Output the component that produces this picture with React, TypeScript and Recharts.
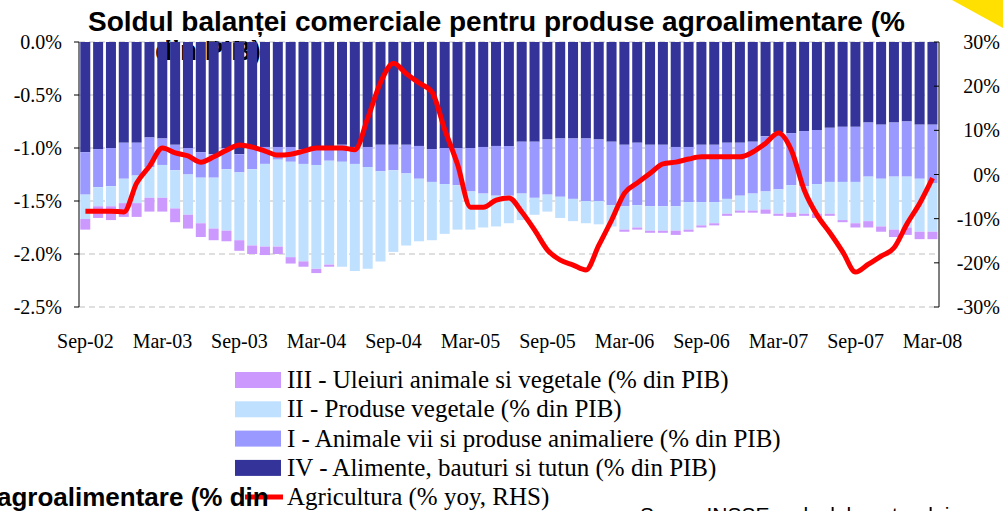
import React from 'react';
import { ComposedChart, Bar, Line, XAxis, YAxis, CartesianGrid } from 'recharts';

// monthly observations, Sep-02 .. Mar-08
const months = [
  'Sep-02', 'Oct-02', 'Nov-02', 'Dec-02', 'Jan-03', 'Feb-03', 'Mar-03', 'Apr-03', 'May-03', 'Jun-03', 'Jul-03', 'Aug-03',
  'Sep-03', 'Oct-03', 'Nov-03', 'Dec-03', 'Jan-04', 'Feb-04', 'Mar-04', 'Apr-04', 'May-04', 'Jun-04', 'Jul-04', 'Aug-04',
  'Sep-04', 'Oct-04', 'Nov-04', 'Dec-04', 'Jan-05', 'Feb-05', 'Mar-05', 'Apr-05', 'May-05', 'Jun-05', 'Jul-05', 'Aug-05',
  'Sep-05', 'Oct-05', 'Nov-05', 'Dec-05', 'Jan-06', 'Feb-06', 'Mar-06', 'Apr-06', 'May-06', 'Jun-06', 'Jul-06', 'Aug-06',
  'Sep-06', 'Oct-06', 'Nov-06', 'Dec-06', 'Jan-07', 'Feb-07', 'Mar-07', 'Apr-07', 'May-07', 'Jun-07', 'Jul-07', 'Aug-07',
  'Sep-07', 'Oct-07', 'Nov-07', 'Dec-07', 'Jan-08', 'Feb-08', 'Mar-08',
];

const axisLabels = ['Sep-02', 'Mar-03', 'Sep-03', 'Mar-04', 'Sep-04', 'Mar-05', 'Sep-05', 'Mar-06', 'Sep-06', 'Mar-07', 'Sep-07', 'Mar-08'];
const leftTicks = [-2.5, -2, -1.5, -1, -0.5, 0];
const rightTicks = [-30, -20, -10, 0, 10, 20, 30];

// IV - Alimente, bauturi si tutun (% din PIB)
const alimente = [
  -1.04, -1.01, -1.0, -0.95, -0.95, -0.9, -0.91, -0.97, -1.0, -1.04, -1.06, -1.0,
  -1.06, -1.0, -0.99, -0.99, -0.99, -1.01, -1.01, -1.0, -0.97, -0.99, -0.99, -0.97,
  -0.97, -0.97, -0.98, -1.01, -1.0, -1.0, -1.0, -0.99, -0.98, -0.98, -0.94, -0.94,
  -0.92, -0.91, -0.91, -0.91, -0.92, -0.94, -0.97, -0.95, -0.97, -0.97, -0.99, -0.99,
  -0.97, -0.97, -0.95, -0.95, -0.94, -0.89, -0.85, -0.86, -0.84, -0.83, -0.81, -0.8,
  -0.8, -0.76, -0.78, -0.76, -0.75, -0.78, -0.78,
];

// I - Animale vii si produse animaliere (% din PIB)
const animale = [
  -0.4, -0.36, -0.36, -0.34, -0.31, -0.28, -0.25, -0.24, -0.25, -0.24, -0.22, -0.2,
  -0.17, -0.2, -0.16, -0.12, -0.14, -0.14, -0.15, -0.12, -0.16, -0.16, -0.19, -0.25,
  -0.24, -0.27, -0.31, -0.31, -0.34, -0.35, -0.41, -0.44, -0.47, -0.47, -0.49, -0.53,
  -0.52, -0.55, -0.57, -0.59, -0.58, -0.6, -0.58, -0.59, -0.58, -0.58, -0.56, -0.52,
  -0.54, -0.54, -0.53, -0.5, -0.49, -0.52, -0.54, -0.49, -0.52, -0.51, -0.51, -0.52,
  -0.52, -0.51, -0.51, -0.51, -0.52, -0.51, -0.55,
];

// II - Produse vegetale (% din PIB)
const vegetale = [
  -0.23, -0.18, -0.19, -0.23, -0.26, -0.29, -0.31, -0.36, -0.38, -0.43, -0.48, -0.58,
  -0.64, -0.72, -0.78, -0.82, -0.9, -0.92, -0.98, -0.98, -0.99, -1.01, -0.96, -0.85,
  -0.77, -0.68, -0.59, -0.55, -0.47, -0.42, -0.36, -0.32, -0.29, -0.26, -0.25, -0.16,
  -0.16, -0.2, -0.21, -0.21, -0.22, -0.2, -0.22, -0.21, -0.23, -0.23, -0.23, -0.26,
  -0.22, -0.2, -0.14, -0.14, -0.16, -0.17, -0.23, -0.26, -0.26, -0.28, -0.3, -0.36,
  -0.39, -0.42, -0.45, -0.5, -0.48, -0.5, -0.46,
];

// III - Uleiuri animale si vegetale (% din PIB)
const uleiuri = [
  -0.1, -0.11, -0.13, -0.13, -0.13, -0.13, -0.13, -0.13, -0.13, -0.13, -0.11, -0.1,
  -0.1, -0.08, -0.08, -0.07, -0.06, -0.05, -0.04, -0.02, 0, 0, 0, 0,
  0, 0, 0, 0, 0, 0, 0, 0, 0, 0, 0, 0,
  0, 0, 0, 0, 0, 0, -0.02, -0.02, -0.02, -0.02, -0.04, -0.02,
  -0.02, -0.02, -0.02, -0.02, -0.02, -0.04, -0.02, -0.04, -0.02, -0.04, -0.02, -0.02,
  -0.04, -0.06, -0.05, -0.07, -0.07, -0.07, -0.07,
];

// Agricultura (% yoy, RHS)
const agricultura = [
  -8.3, -8.3, -8.3, -8.5, -1.9, 1.9, 6.0, 4.9, 4.2, 2.8, 4.0, 5.5,
  6.7, 6.2, 5.3, 4.4, 4.6, 5.3, 6.0, 6.0, 6.0, 5.6, 12.8, 20.9,
  25.2, 22.8, 20.7, 18.7, 10.1, 2.2, -7.4, -7.4, -5.8, -5.3, -8.5, -12.6,
  -17.1, -19.4, -20.5, -21.6, -16.0, -10.3, -4.2, -1.9, 0.3, 2.4, 2.8, 3.5,
  4.0, 4.0, 4.0, 4.0, 5.1, 7.1, 9.4, 5.5, -3.5, -9.2, -13.2, -17.5,
  -22.1, -20.3, -18.5, -16.6, -11.2, -6.5, -0.8,
];

const COLORS = {
  alimente: '#333399',
  animale: '#9999FF',
  vegetale: '#C0E0FF',
  uleiuri: '#CC99FF',
  agricultura: '#FF0000',
};

const SERIF = '"Liberation Serif", "Times New Roman", serif';
const SANS = '"Liberation Sans", Arial, sans-serif';

const data = months.map((m, i) => ({
  month: m,
  idx: i + 0.5,
  alimente: alimente[i],
  animale: animale[i],
  vegetale: vegetale[i],
  uleiuri: uleiuri[i],
  agricultura: agricultura[i],
}));

// top axis ticks sit on the left edge of each labelled month
const boundaryTicks = axisLabels.map((l) => months.indexOf(l));

const legendItems = [
  { label: 'III - Uleiuri animale si vegetale (% din PIB)', color: COLORS.uleiuri },
  { label: 'II - Produse vegetale (% din PIB)', color: COLORS.vegetale },
  { label: 'I - Animale vii  si produse animaliere (% din PIB)', color: COLORS.animale },
  { label: 'IV - Alimente, bauturi si tutun (% din PIB)', color: COLORS.alimente },
];

const LeftTick = (props: any) => {
  const { y, payload } = props;
  return (
    <text x={62} y={y} dy={7} textAnchor="end" fontFamily={SERIF} fontSize={20} fill="#000">
      {Number(payload.value).toFixed(1)}%
    </text>
  );
};

const RightTick = (props: any) => {
  const { x, y, payload } = props;
  return (
    <g>
      <line x1={x - 5} x2={x} y1={y} y2={y} stroke="#000" strokeWidth={1} />
      <text x={x + 61} y={y} dy={7} textAnchor="end" fontFamily={SERIF} fontSize={20} fill="#000">
        {payload.value}%
      </text>
    </g>
  );
};

const BottomTick = (props: any) => {
  const { x, y, payload } = props;
  return (
    <text x={x} y={y + 41} textAnchor="middle" fontFamily={SERIF} fontSize={20} fill="#000">
      {payload.value}
    </text>
  );
};

export default function App() {
  return (
    <div
      style={{
        position: 'absolute',
        left: 0,
        top: 0,
        width: 1003,
        height: 511,
        background: '#fff',
        overflow: 'hidden',
      }}
    >
      {/* title sits behind the plot, the bars cover its second line */}
      <svg width={1003} height={511} style={{ position: 'absolute', left: 0, top: 0 }}>
        <text x={88} y={31} fontFamily={SANS} fontWeight="bold" fontSize={28} fill="#000">
          Soldul balanței comerciale pentru produse agroalimentare (%
        </text>
        <text x={155} y={60} fontFamily={SANS} fontWeight="bold" fontSize={28} fill="#000">
          din PIB)
        </text>
      </svg>

      <div style={{ position: 'absolute', left: 0, top: 0 }}>
        <ComposedChart
          width={1003}
          height={360}
          data={data}
          margin={{ top: 42, right: 0, left: 0, bottom: 13 }}
          barCategoryGap="10%"
        >
          <CartesianGrid
            yAxisId="left"
            xAxisId="bottom"
            vertical={false}
            stroke="#BFBFBF"
            strokeDasharray="6 4"
          />
          <XAxis
            xAxisId="bottom"
            dataKey="month"
            ticks={axisLabels}
            interval={0}
            axisLine={false}
            tickLine={false}
            tickSize={0}
            tickMargin={0}
            height={40}
            tick={<BottomTick />}
          />
          <XAxis
            xAxisId="top"
            dataKey="idx"
            type="number"
            orientation="top"
            domain={[0, months.length]}
            allowDataOverflow
            ticks={boundaryTicks}
            height={0}
            mirror
            tick={false}
            tickSize={5}
            axisLine={{ stroke: '#808080', strokeWidth: 1.5 }}
            tickLine={{ stroke: '#000' }}
          />
          <YAxis
            yAxisId="left"
            domain={[-2.5, 0]}
            ticks={leftTicks}
            interval={0}
            width={79}
            axisLine={{ stroke: '#000' }}
            tickLine={{ stroke: '#000' }}
            tickSize={5}
            tick={<LeftTick />}
          />
          <YAxis
            yAxisId="right"
            orientation="right"
            domain={[-30, 30]}
            ticks={rightTicks}
            interval={0}
            width={64}
            axisLine={{ stroke: '#000' }}
            tickLine={false}
            tickSize={0}
            tickMargin={0}
            tick={<RightTick />}
          />
          <Bar xAxisId="bottom" yAxisId="left" dataKey="alimente" stackId="s" fill={COLORS.alimente} isAnimationActive={false} />
          <Bar xAxisId="bottom" yAxisId="left" dataKey="animale" stackId="s" fill={COLORS.animale} isAnimationActive={false} />
          <Bar xAxisId="bottom" yAxisId="left" dataKey="vegetale" stackId="s" fill={COLORS.vegetale} isAnimationActive={false} />
          <Bar xAxisId="bottom" yAxisId="left" dataKey="uleiuri" stackId="s" fill={COLORS.uleiuri} isAnimationActive={false} />
          <Line
            xAxisId="bottom"
            yAxisId="right"
            dataKey="agricultura"
            type="monotone"
            stroke={COLORS.agricultura}
            strokeWidth={5}
            dot={false}
            isAnimationActive={false}
          />
        </ComposedChart>
      </div>

      {/* legend and the cut-off slide texts */}
      <svg width={1003} height={511} style={{ position: 'absolute', left: 0, top: 0 }}>
        {legendItems.map((item, i) => (
          <g key={item.label}>
            <rect x={235} y={372 + i * 29.3} width={46} height={16} fill={item.color} />
            <text x={287} y={388 + i * 29.3} fontFamily={SERIF} fontSize={25} fill="#000">
              {item.label}
            </text>
          </g>
        ))}
        <line x1={245} x2={283} y1={497} y2={497} stroke={COLORS.agricultura} strokeWidth={5} />
        <text x={287} y={505} fontFamily={SERIF} fontSize={25} fill="#000">
          Agricultura (% yoy, RHS)
        </text>
        <text x={-3} y={506} fontFamily={SANS} fontWeight="bold" fontSize={26} fill="#000">
          agroalimentare (% din
        </text>
        <text x={640} y={522} fontFamily={SANS} fontSize={21} fill="#000">
          Sursa: INSSE, calculele autorului
        </text>
        <polygon points="952,0 1003,0 1003,28" fill="#FFE000" />
      </svg>
    </div>
  );
}
